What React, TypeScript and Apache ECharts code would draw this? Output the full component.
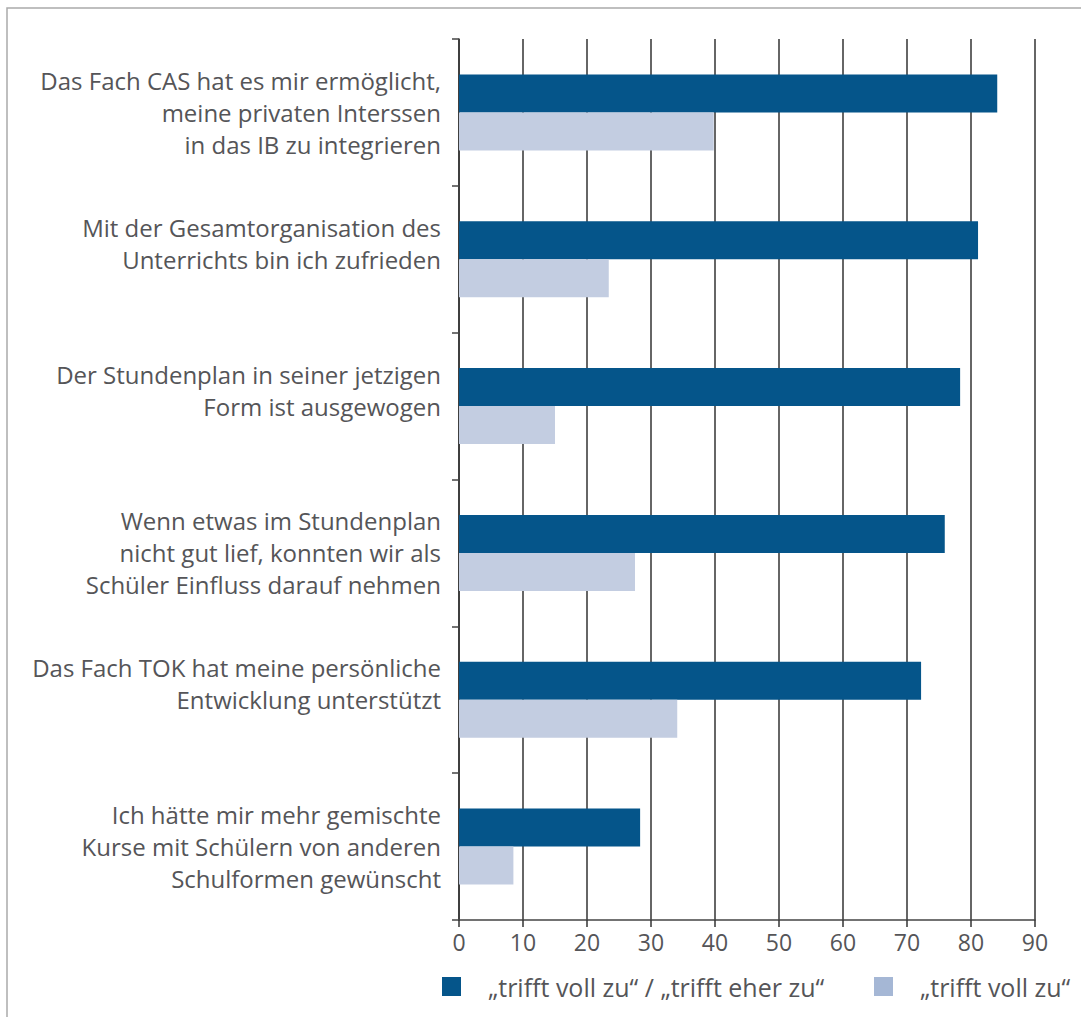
import React, { useEffect, useRef } from "react";
import * as echarts from "echarts";

const categories = [
  "Das Fach CAS hat es mir ermöglicht,\nmeine privaten Interssen\nin das IB zu integrieren",
  "Mit der Gesamtorganisation des\nUnterrichts bin ich zufrieden",
  "Der Stundenplan in seiner jetzigen\nForm ist ausgewogen",
  "Wenn etwas im Stundenplan\nnicht gut lief, konnten wir als\nSchüler Einfluss darauf nehmen",
  "Das Fach TOK hat meine persönliche\nEntwicklung unterstützt",
  "Ich hätte mir mehr gemischte\nKurse mit Schülern von anderen\nSchulformen gewünscht",
];

const seriesNames = ["„trifft voll zu“ / „trifft eher zu“", "„trifft voll zu“"];
const agreeValues = [84.1, 81.1, 78.3, 75.9, 72.2, 28.3];
const fullyAgreeValues = [39.8, 23.4, 15.0, 27.5, 34.1, 8.5];
const xTicks = { min: 0, max: 90, interval: 10 };

const FONT = "'Open Sans', Lato, sans-serif";
const TEXT = "#555558";

export default function App() {
  const ref = useRef<HTMLDivElement>(null);
  useEffect(() => {
    document.body.style.margin = "0";
    if (!ref.current) return;
    const chart = echarts.init(ref.current, null, { renderer: "svg" });
    chart.setOption({
      animation: false,
      textStyle: { fontFamily: FONT },
      grid: { left: 459, right: 46, top: 39, bottom: 97, containLabel: false },
      graphic: [
        {
          type: "rect",
          shape: { x: 7, y: 8, width: 1200, height: 1200 },
          style: { fill: "none", stroke: "#aaaaaa", lineWidth: 1.5 },
          silent: true,
        },
      ],
      legend: [
        {
          data: [{ name: seriesNames[0], itemStyle: { color: "#05558a" } }],
          left: 442,
          top: 974,
          padding: 0,
          itemWidth: 19,
          itemHeight: 19,
          icon: "rect",
          textStyle: { fontSize: 25, color: TEXT, fontFamily: FONT, padding: [0, 0, 0, 22] },
        },
        {
          data: [{ name: seriesNames[1], itemStyle: { color: "#a5b7d5" } }],
          left: 874,
          top: 974,
          padding: 0,
          itemWidth: 19,
          itemHeight: 19,
          icon: "rect",
          textStyle: { fontSize: 25, color: TEXT, fontFamily: FONT, padding: [0, 0, 0, 22] },
        },
      ],
      xAxis: {
        type: "value",
        min: xTicks.min,
        max: xTicks.max,
        interval: xTicks.interval,
        axisLine: { show: true, lineStyle: { color: "#444", width: 1.5 } },
        axisTick: { show: true, length: 7, lineStyle: { color: "#333", width: 1.5 } },
        splitLine: { show: true, lineStyle: { color: "#333", width: 1.5 } },
        axisLabel: { fontSize: 23, color: TEXT, margin: 10, fontFamily: FONT },
      },
      yAxis: {
        type: "category",
        inverse: true,
        data: categories,
        axisLine: { show: true, lineStyle: { color: "#333", width: 1.5 } },
        axisTick: { show: true, length: 7, lineStyle: { color: "#444", width: 1.5 } },
        axisLabel: {
          fontSize: 24,
          lineHeight: 32,
          color: TEXT,
          margin: 18,
          fontFamily: FONT,
          formatter: (v: string) => (v.split("\n").length < 3 ? v + "\n " : v),
        },
      },
      series: [
        {
          name: seriesNames[0],
          type: "bar",
          data: agreeValues,
          barWidth: 38,
          barGap: "0%",
          itemStyle: { color: "#05558a" },
        },
        {
          name: seriesNames[1],
          type: "bar",
          data: fullyAgreeValues,
          barWidth: 38,
          barGap: "0%",
          itemStyle: { color: "#c3cde1" },
        },
      ],
    });
    return () => chart.dispose();
  }, []);
  return <div ref={ref} style={{ width: 1081, height: 1017 }} />;
}
